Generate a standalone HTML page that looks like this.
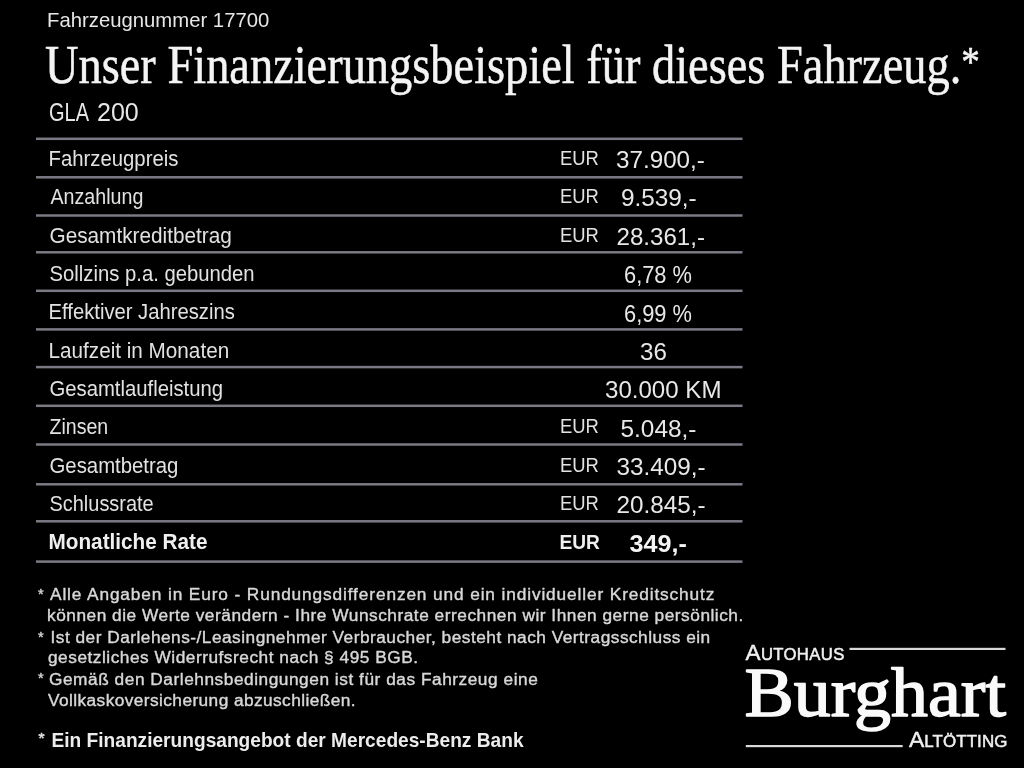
<!DOCTYPE html><html><head><meta charset="utf-8"><style>html,body{margin:0;padding:0;background:#000;width:1024px;height:768px;overflow:hidden}svg{display:block;will-change:transform}text{white-space:pre}</style></head><body>
<svg width="1024" height="768" viewBox="0 0 1024 768">
<rect width="1024" height="768" fill="#000"/>
<rect x="36.00" y="137.55" width="706.50" height="2.50" fill="#7a7a85"/>
<rect x="36.00" y="176.05" width="706.50" height="2.50" fill="#7a7a85"/>
<rect x="36.00" y="214.25" width="706.50" height="2.50" fill="#7a7a85"/>
<rect x="36.00" y="251.05" width="706.50" height="2.50" fill="#7a7a85"/>
<rect x="36.00" y="289.55" width="706.50" height="2.50" fill="#7a7a85"/>
<rect x="36.00" y="328.15" width="706.50" height="2.50" fill="#7a7a85"/>
<rect x="36.00" y="365.85" width="706.50" height="2.50" fill="#7a7a85"/>
<rect x="36.00" y="404.55" width="706.50" height="2.50" fill="#7a7a85"/>
<rect x="36.00" y="443.25" width="706.50" height="2.50" fill="#7a7a85"/>
<rect x="36.00" y="483.05" width="706.50" height="2.50" fill="#7a7a85"/>
<rect x="36.00" y="520.05" width="706.50" height="2.50" fill="#7a7a85"/>
<rect x="36.00" y="560.35" width="706.50" height="2.50" fill="#7a7a85"/>
<rect x="849.50" y="647.80" width="156.00" height="2.20" fill="#d8d8d8"/>
<rect x="745.80" y="745.00" width="156.90" height="2.20" fill="#d8d8d8"/>
<text id="hdr" x="47.00" y="27.30" font-family="'Liberation Sans', sans-serif" font-size="20.30" fill="#e6e6e6" textLength="222.29" lengthAdjust="spacing">Fahrzeugnummer 17700</text>
<text id="title" x="45.00" y="83.40" font-family="'Liberation Serif', serif" font-size="54.00" fill="#f4f4f4" textLength="934.81" lengthAdjust="spacingAndGlyphs" stroke="#f4f4f4" stroke-width="0.50" stroke-linejoin="round"><tspan font-size="54.00">Unser Finanzierungsbeispiel für dieses Fahrzeug.</tspan><tspan font-size="43.20" dy="-7.50">*</tspan></text>
<text id="gla" x="49.00" y="120.50" font-family="'Liberation Sans', sans-serif" font-size="25.30" fill="#e6e6e6" textLength="40.03" lengthAdjust="spacingAndGlyphs">GLA</text>
<text id="gla2" x="97.00" y="120.50" font-family="'Liberation Sans', sans-serif" font-size="25.30" fill="#e6e6e6" textLength="41.82" lengthAdjust="spacingAndGlyphs">200</text>
<text id="lab0" x="48.50" y="166.00" font-family="'Liberation Sans', sans-serif" font-size="21.90" fill="#e2e2e2" textLength="129.94" lengthAdjust="spacingAndGlyphs">Fahrzeugpreis</text>
<text id="lab1" x="50.50" y="204.35" font-family="'Liberation Sans', sans-serif" font-size="21.90" fill="#e2e2e2" textLength="92.87" lengthAdjust="spacingAndGlyphs">Anzahlung</text>
<text id="lab2" x="49.50" y="242.70" font-family="'Liberation Sans', sans-serif" font-size="21.90" fill="#e2e2e2" textLength="182.25" lengthAdjust="spacingAndGlyphs">Gesamtkreditbetrag</text>
<text id="lab3" x="49.50" y="281.05" font-family="'Liberation Sans', sans-serif" font-size="21.90" fill="#e2e2e2" textLength="205.12" lengthAdjust="spacingAndGlyphs">Sollzins p.a. gebunden</text>
<text id="lab4" x="48.50" y="319.40" font-family="'Liberation Sans', sans-serif" font-size="21.90" fill="#e2e2e2" textLength="186.36" lengthAdjust="spacingAndGlyphs">Effektiver Jahreszins</text>
<text id="lab5" x="48.50" y="357.75" font-family="'Liberation Sans', sans-serif" font-size="21.90" fill="#e2e2e2" textLength="180.66" lengthAdjust="spacingAndGlyphs">Laufzeit in Monaten</text>
<text id="lab6" x="49.50" y="396.10" font-family="'Liberation Sans', sans-serif" font-size="21.90" fill="#e2e2e2" textLength="173.59" lengthAdjust="spacingAndGlyphs">Gesamtlaufleistung</text>
<text id="lab7" x="49.50" y="434.45" font-family="'Liberation Sans', sans-serif" font-size="21.90" fill="#e2e2e2" textLength="58.72" lengthAdjust="spacingAndGlyphs">Zinsen</text>
<text id="lab8" x="49.50" y="472.80" font-family="'Liberation Sans', sans-serif" font-size="21.90" fill="#e2e2e2" textLength="128.92" lengthAdjust="spacingAndGlyphs">Gesamtbetrag</text>
<text id="lab9" x="49.50" y="511.15" font-family="'Liberation Sans', sans-serif" font-size="21.90" fill="#e2e2e2" textLength="104.18" lengthAdjust="spacingAndGlyphs">Schlussrate</text>
<text id="lab10" x="48.50" y="549.40" font-family="'Liberation Sans', sans-serif" font-size="21.60" fill="#f0f0f0" font-weight="bold" textLength="158.99" lengthAdjust="spacingAndGlyphs">Monatliche Rate</text>
<text id="eur0" x="560.00" y="164.90" font-family="'Liberation Sans', sans-serif" font-size="20.50" fill="#e2e2e2" textLength="38.90" lengthAdjust="spacingAndGlyphs">EUR</text>
<text id="eur1" x="560.00" y="203.25" font-family="'Liberation Sans', sans-serif" font-size="20.50" fill="#e2e2e2" textLength="38.90" lengthAdjust="spacingAndGlyphs">EUR</text>
<text id="eur2" x="560.00" y="241.60" font-family="'Liberation Sans', sans-serif" font-size="20.50" fill="#e2e2e2" textLength="38.90" lengthAdjust="spacingAndGlyphs">EUR</text>
<text id="eur7" x="560.00" y="433.35" font-family="'Liberation Sans', sans-serif" font-size="20.50" fill="#e2e2e2" textLength="38.90" lengthAdjust="spacingAndGlyphs">EUR</text>
<text id="eur8" x="560.00" y="471.70" font-family="'Liberation Sans', sans-serif" font-size="20.50" fill="#e2e2e2" textLength="38.90" lengthAdjust="spacingAndGlyphs">EUR</text>
<text id="eur9" x="560.00" y="510.05" font-family="'Liberation Sans', sans-serif" font-size="20.50" fill="#e2e2e2" textLength="38.90" lengthAdjust="spacingAndGlyphs">EUR</text>
<text id="eur10" x="559.50" y="548.70" font-family="'Liberation Sans', sans-serif" font-size="20.30" fill="#f0f0f0" font-weight="bold" textLength="40.43" lengthAdjust="spacingAndGlyphs">EUR</text>
<text id="val0" x="616.00" y="168.10" font-family="'Liberation Sans', sans-serif" font-size="24.00" fill="#e8e8e8" textLength="88.88" lengthAdjust="spacingAndGlyphs">37.900,-</text>
<text id="val1" x="621.00" y="206.45" font-family="'Liberation Sans', sans-serif" font-size="24.00" fill="#e8e8e8" textLength="75.72" lengthAdjust="spacingAndGlyphs">9.539,-</text>
<text id="val2" x="616.50" y="244.80" font-family="'Liberation Sans', sans-serif" font-size="24.00" fill="#e8e8e8" textLength="88.48" lengthAdjust="spacingAndGlyphs">28.361,-</text>
<text id="val3" x="624.00" y="283.15" font-family="'Liberation Sans', sans-serif" font-size="24.00" fill="#e8e8e8" textLength="67.92" lengthAdjust="spacingAndGlyphs">6,78 %</text>
<text id="val4" x="624.00" y="321.50" font-family="'Liberation Sans', sans-serif" font-size="24.00" fill="#e8e8e8" textLength="67.92" lengthAdjust="spacingAndGlyphs">6,99 %</text>
<text id="val5" x="640.00" y="359.85" font-family="'Liberation Sans', sans-serif" font-size="24.00" fill="#e8e8e8" textLength="26.90" lengthAdjust="spacingAndGlyphs">36</text>
<text id="val6" x="605.00" y="398.20" font-family="'Liberation Sans', sans-serif" font-size="24.00" fill="#e8e8e8" textLength="116.48" lengthAdjust="spacingAndGlyphs">30.000 KM</text>
<text id="val7" x="620.50" y="436.55" font-family="'Liberation Sans', sans-serif" font-size="24.00" fill="#e8e8e8" textLength="75.92" lengthAdjust="spacingAndGlyphs">5.048,-</text>
<text id="val8" x="616.50" y="474.90" font-family="'Liberation Sans', sans-serif" font-size="24.00" fill="#e8e8e8" textLength="89.08" lengthAdjust="spacingAndGlyphs">33.409,-</text>
<text id="val9" x="616.50" y="513.25" font-family="'Liberation Sans', sans-serif" font-size="24.00" fill="#e8e8e8" textLength="89.08" lengthAdjust="spacingAndGlyphs">20.845,-</text>
<text id="val10" x="629.50" y="551.60" font-family="'Liberation Sans', sans-serif" font-size="24.80" fill="#f4f4f4" font-weight="bold" textLength="57.33" lengthAdjust="spacingAndGlyphs">349,-</text>
<text id="ft0" x="50.00" y="599.70" font-family="'Liberation Sans', sans-serif" font-size="17.30" fill="#d8d8d8" textLength="664.40" lengthAdjust="spacing" stroke="#d8d8d8" stroke-width="0.40" stroke-linejoin="round">Alle Angaben in Euro - Rundungsdifferenzen und ein individueller Kreditschutz</text>
<text id="fa0" x="38.00" y="598.71" font-family="'Liberation Sans', sans-serif" font-size="14.50" fill="#d8d8d8" stroke="#d8d8d8" stroke-width="0.40" stroke-linejoin="round">*</text>
<text id="ft1" x="47.00" y="620.50" font-family="'Liberation Sans', sans-serif" font-size="17.30" fill="#d8d8d8" textLength="696.30" lengthAdjust="spacing" stroke="#d8d8d8" stroke-width="0.40" stroke-linejoin="round">können die Werte verändern - Ihre Wunschrate errechnen wir Ihnen gerne persönlich.</text>
<text id="ft2" x="50.50" y="642.90" font-family="'Liberation Sans', sans-serif" font-size="17.30" fill="#d8d8d8" textLength="659.68" lengthAdjust="spacing" stroke="#d8d8d8" stroke-width="0.40" stroke-linejoin="round">Ist der Darlehens-/Leasingnehmer Verbraucher, besteht nach Vertragsschluss ein</text>
<text id="fa2" x="38.00" y="641.71" font-family="'Liberation Sans', sans-serif" font-size="14.50" fill="#d8d8d8" stroke="#d8d8d8" stroke-width="0.40" stroke-linejoin="round">*</text>
<text id="ft3" x="48.00" y="662.90" font-family="'Liberation Sans', sans-serif" font-size="17.30" fill="#d8d8d8" textLength="370.07" lengthAdjust="spacing" stroke="#d8d8d8" stroke-width="0.40" stroke-linejoin="round">gesetzliches Widerrufsrecht nach § 495 BGB.</text>
<text id="ft4" x="49.00" y="684.80" font-family="'Liberation Sans', sans-serif" font-size="17.30" fill="#d8d8d8" textLength="488.76" lengthAdjust="spacing" stroke="#d8d8d8" stroke-width="0.40" stroke-linejoin="round">Gemäß den Darlehnsbedingungen ist für das Fahrzeug eine</text>
<text id="fa4" x="38.00" y="683.21" font-family="'Liberation Sans', sans-serif" font-size="14.50" fill="#d8d8d8" stroke="#d8d8d8" stroke-width="0.40" stroke-linejoin="round">*</text>
<text id="ft5" x="48.00" y="705.80" font-family="'Liberation Sans', sans-serif" font-size="17.30" fill="#d8d8d8" textLength="307.58" lengthAdjust="spacing" stroke="#d8d8d8" stroke-width="0.40" stroke-linejoin="round">Vollkaskoversicherung abzuschließen.</text>
<text id="fbold" x="51.50" y="747.20" font-family="'Liberation Sans', sans-serif" font-size="19.80" fill="#ececec" font-weight="bold" textLength="472.03" lengthAdjust="spacingAndGlyphs">Ein Finanzierungsangebot der Mercedes-Benz Bank</text>
<text id="fbast" x="38.50" y="743.14" font-family="'Liberation Sans', sans-serif" font-size="15.50" fill="#e0e0e0" stroke="#e0e0e0" stroke-width="0.60" stroke-linejoin="round">*</text>
<text id="autohaus" x="745.50" y="660.20" font-family="'Liberation Sans', sans-serif" font-size="22.55" fill="#f0f0f0" textLength="98.77" lengthAdjust="spacing" stroke="#f0f0f0" stroke-width="0.50" stroke-linejoin="round"><tspan font-size="22.55">A</tspan><tspan font-size="16.69">UTOHAUS</tspan></text>
<text id="burg" x="744.50" y="716.30" font-family="'Liberation Serif', serif" font-size="69.20" fill="#fafafa" textLength="261.50" lengthAdjust="spacingAndGlyphs" stroke="#fafafa" stroke-width="1.50" stroke-linejoin="round">Burghart</text>
<text id="alt" x="909.00" y="746.90" font-family="'Liberation Sans', sans-serif" font-size="22.88" fill="#f0f0f0" textLength="98.39" lengthAdjust="spacing" stroke="#f0f0f0" stroke-width="0.50" stroke-linejoin="round"><tspan font-size="22.88">A</tspan><tspan font-size="16.93">LTÖTTING</tspan></text>

</svg></body></html>
